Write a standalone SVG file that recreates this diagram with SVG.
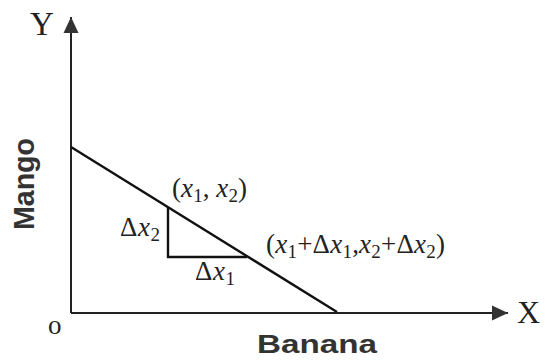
<svg xmlns="http://www.w3.org/2000/svg" width="545" height="360" viewBox="0 0 545 360">
<style>
.ax{stroke:#222;stroke-width:2;fill:none}
.ln{stroke:#111;stroke-width:2.4;fill:none}
.t{font-family:"Liberation Serif","Times New Roman",serif;fill:#222;font-size:27px}
.i{font-style:italic}
.s{font-size:19px}
.b{font-family:"Liberation Sans",Arial,sans-serif;font-weight:bold;fill:#333}
</style>
<defs>
<marker id="ah" viewBox="0 0 16 16" refX="16" refY="8" markerWidth="16" markerHeight="16" markerUnits="userSpaceOnUse" orient="auto">
<path d="M0,0.5 L16,8 L0,15.5 Z" fill="#333"/>
</marker>
</defs>
<rect width="545" height="360" fill="#fff"/>
<g id="axes">
<path class="ax" d="M71,313 V17" marker-end="url(#ah)"/>
<path class="ax" d="M71,313 H508" marker-end="url(#ah)"/>
<text class="t" x="30" y="35" style="font-size:33px">Y</text>
<text class="t" x="517" y="323" style="font-size:32px">X</text>
<text class="t" x="48" y="334" style="font-size:27px">o</text>
<text class="b" x="0" y="0" transform="translate(34,184) rotate(-90)" text-anchor="middle" font-size="30" textLength="92" lengthAdjust="spacingAndGlyphs">Mango</text>
<text class="b" x="257" y="353" font-size="25" textLength="120" lengthAdjust="spacingAndGlyphs">Banana</text>
</g>
<g id="connectors">
<path class="ln" d="M71,147 L337,312"/>
<path class="ln" d="M168,207 V257 H247"/>
</g>
<g id="labels">
<text class="t" x="172" y="197" textLength="75">(<tspan class="i">x</tspan><tspan class="s" dy="5">1</tspan><tspan dy="-5">, </tspan><tspan class="i">x</tspan><tspan class="s" dy="5">2</tspan><tspan dy="-5">)</tspan></text>
<text class="t" x="120" y="236" textLength="40">Δ<tspan class="i">x</tspan><tspan class="s" dy="5">2</tspan></text>
<text class="t" x="195" y="280" textLength="40">Δ<tspan class="i">x</tspan><tspan class="s" dy="5">1</tspan></text>
<text class="t" x="266" y="253" textLength="179">(<tspan class="i">x</tspan><tspan class="s" dy="5">1</tspan><tspan dy="-5">+Δ</tspan><tspan class="i">x</tspan><tspan class="s" dy="5">1</tspan><tspan dy="-5">,</tspan><tspan class="i">x</tspan><tspan class="s" dy="5">2</tspan><tspan dy="-5">+Δ</tspan><tspan class="i">x</tspan><tspan class="s" dy="5">2</tspan><tspan dy="-5">)</tspan></text>
</g>
</svg>
